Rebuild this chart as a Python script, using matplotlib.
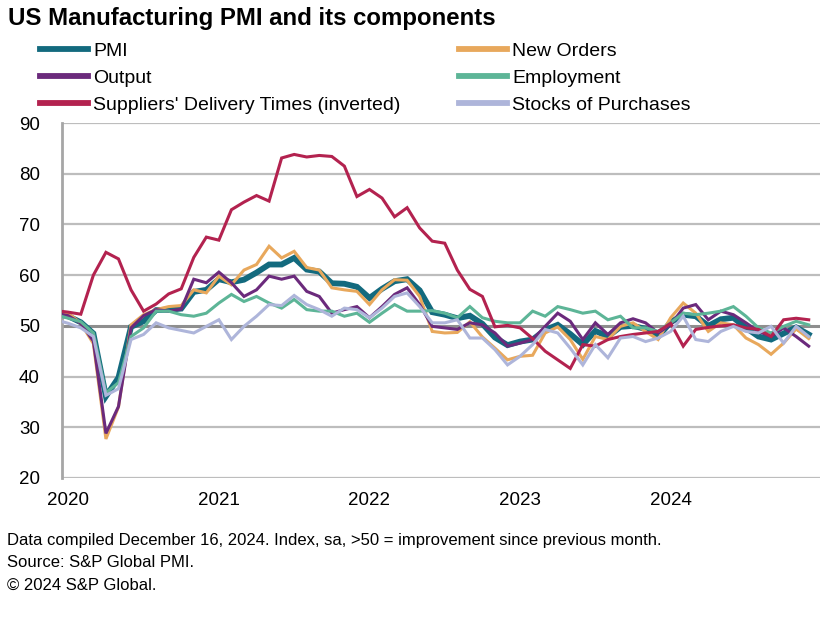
import matplotlib
matplotlib.use("Agg")
import matplotlib.pyplot as plt
import numpy as np

plt.rcParams['font.family'] = ['Liberation Sans', 'DejaVu Sans']

# Monthly data: Dec 2019 (index -1) through Dec 2024 (index 59)
pmi = [52.4,
       51.9, 50.7, 48.5, 36.1, 39.8, 49.8, 50.9, 53.1, 53.2, 53.4, 56.7, 57.1,
       59.2, 58.6, 59.1, 60.5, 62.1, 62.1, 63.4, 61.1, 60.7, 58.4, 58.3, 57.7,
       55.5, 57.3, 58.8, 59.2, 57.0, 52.7, 52.2, 51.5, 52.0, 50.4, 47.7, 46.2,
       46.9, 47.3, 49.2, 50.2, 48.4, 46.3, 49.0, 47.9, 49.8, 50.0, 49.4, 47.9,
       50.7, 52.2, 51.9, 50.0, 51.3, 51.6, 49.6, 47.9, 47.3, 48.5, 49.7, 48.3]
new_orders = [52.5,
       52.5, 50.5, 46.5, 27.7, 34.0, 50.2, 52.2, 53.2, 53.8, 54.0, 57.1, 56.5,
       59.8, 58.1, 61.0, 62.1, 65.7, 63.4, 64.7, 61.5, 61.0, 57.5, 57.1, 56.8,
       54.2, 57.1, 59.1, 59.0, 55.8, 48.9, 48.6, 48.7, 50.8, 47.8, 45.6, 43.3,
       44.0, 44.2, 48.6, 49.8, 47.3, 43.4, 47.9, 47.3, 49.9, 50.6, 48.9, 47.3,
       51.6, 54.5, 52.5, 48.9, 50.6, 50.2, 47.6, 46.3, 44.4, 46.6, 49.4, 47.5]
output = [52.5,
       52.0, 50.5, 47.0, 28.8, 34.1, 49.6, 52.0, 53.2, 52.9, 53.3, 59.2, 58.5,
       60.6, 58.5, 55.8, 57.1, 59.8, 59.2, 59.8, 56.8, 55.8, 52.5, 53.2, 53.8,
       51.6, 53.8, 56.2, 57.5, 54.2, 49.9, 49.6, 49.3, 50.6, 50.2, 48.6, 46.0,
       46.6, 47.3, 49.9, 52.5, 50.9, 47.3, 50.6, 48.3, 50.6, 51.4, 50.6, 48.6,
       50.2, 53.5, 54.2, 51.2, 52.9, 52.2, 50.6, 48.9, 47.9, 49.6, 47.9, 46.0]
employment = [52.2,
       51.5, 50.8, 48.6, 36.8, 38.8, 47.9, 49.6, 52.9, 52.9, 52.2, 51.9, 52.5,
       54.5, 56.2, 54.8, 55.8, 54.5, 53.5, 55.2, 53.2, 52.9, 52.9, 51.9, 52.5,
       50.7, 52.5, 54.2, 52.9, 52.9, 53.0, 52.5, 51.6, 53.8, 51.6, 50.9, 50.6,
       50.6, 52.9, 51.9, 53.8, 53.2, 52.5, 52.9, 51.2, 51.9, 49.6, 49.6, 48.9,
       50.6, 52.5, 52.2, 52.5, 52.9, 53.8, 51.9, 49.6, 48.6, 49.9, 50.9, 50.2]
suppliers = [53.0,
       52.7, 52.3, 60.0, 64.5, 63.2, 57.1, 52.9, 54.3, 56.3, 57.3, 63.5, 67.5,
       66.9, 72.9, 74.4, 75.7, 74.6, 83.1, 83.8, 83.3, 83.6, 83.4, 81.5, 75.5,
       76.9, 75.2, 71.5, 73.3, 69.3, 66.7, 66.3, 61.0, 57.2, 55.8, 49.8, 50.1,
       49.6, 47.5, 45.0, 43.3, 41.6, 46.3, 46.0, 47.3, 47.9, 48.3, 48.6, 48.9,
       50.5, 46.0, 49.3, 49.7, 50.0, 50.2, 49.6, 49.3, 47.9, 51.2, 51.5, 51.2]
stocks = [51.2,
       50.5, 49.6, 47.9, 36.3, 37.6, 47.3, 48.3, 50.6, 49.6, 49.1, 48.6, 49.9,
       51.2, 47.3, 49.9, 51.9, 54.2, 54.0, 56.0, 54.2, 53.2, 51.9, 53.5, 53.2,
       51.6, 53.5, 55.8, 56.5, 53.8, 50.6, 50.6, 51.2, 47.6, 47.6, 45.3, 42.3,
       44.0, 46.3, 49.3, 48.6, 45.6, 42.3, 46.3, 43.7, 47.6, 47.9, 46.9, 47.6,
       48.9, 51.9, 47.3, 46.9, 48.9, 49.9, 48.9, 48.6, 49.9, 46.6, 49.9, 47.9]

series_names = ["PMI", "New Orders", "Output", "Employment",
                "Suppliers' Delivery Times (inverted)", "Stocks of Purchases"]
year_labels = ["2020", "2021", "2022", "2023", "2024"]
y_ticks = [20, 30, 40, 50, 60, 70, 80, 90]

colors = ["#136A7E", "#E8A85C", "#6B2A7C", "#5DB597", "#B3224F", "#AEB5DA"]
widths = [4.2, 2.2, 2.2, 2.2, 2.2, 2.2]

months = np.arange(-1, len(pmi) - 1)

fig = plt.figure(figsize=(8.32, 6.22), dpi=100)
ax = fig.add_axes([62/832, 1 - 478/622, (820 - 62)/832, (478 - 123)/622])

data = [pmi, new_orders, output, employment, suppliers, stocks]
handles = []
for vals, name, c, w in zip(data, series_names, colors, widths):
    h, = ax.plot(months, vals, color=c, lw=w, label=name,
                 solid_joinstyle='miter', zorder=3)
    handles.append(h)

ax.set_xlim(-0.5, 59.9)
ax.set_ylim(20, 90)
ax.set_yticks(y_ticks)
ax.set_yticklabels([str(v) for v in y_ticks], fontsize=13.5)
ax.set_xticks([0, 12, 24, 36, 48])
ax.set_xticklabels(year_labels, fontsize=13.5)
ax.tick_params(axis='x', length=0, pad=10)
ax.tick_params(axis='y', length=0, pad=16)

for v in y_ticks:
    if v == 50:
        continue
    ax.axhline(v, color="#BDBDBD", lw=1.6, zorder=1)
ax.axhline(50, color="#8E8E8E", lw=2.2, zorder=2)

for s in ["top", "right", "bottom"]:
    ax.spines[s].set_visible(False)
ax.spines["left"].set_color("#A6A6A6")
ax.spines["left"].set_linewidth(2.0)

fig.text(8/832, 1 - 18/622, "US Manufacturing PMI and its components",
         fontsize=17.3, fontweight='bold', va='center', ha='left')

order = [0, 2, 4, 1, 3, 5]
leg = fig.legend([handles[i] for i in order], [series_names[i] for i in order],
                 ncol=2, loc='upper left', bbox_to_anchor=(40/832, 1 - 42/622),
                 frameon=False, fontsize=14, handlelength=2.47,
                 handletextpad=0.26, columnspacing=3.0, labelspacing=0.5,
                 borderaxespad=0, borderpad=0)
for lh in leg.get_lines():
    lh.set_linewidth(4.2)

foot = ["Data compiled December 16, 2024. Index, sa, >50 = improvement since previous month.",
        "Source: S&P Global PMI.",
        "\u00a9 2024 S&P Global."]
for k, t in enumerate(foot):
    fig.text(7/832, 1 - (540 + 22.5*k)/622, t, fontsize=12, va='center', ha='left')

fig.savefig("out.png", dpi=100)
